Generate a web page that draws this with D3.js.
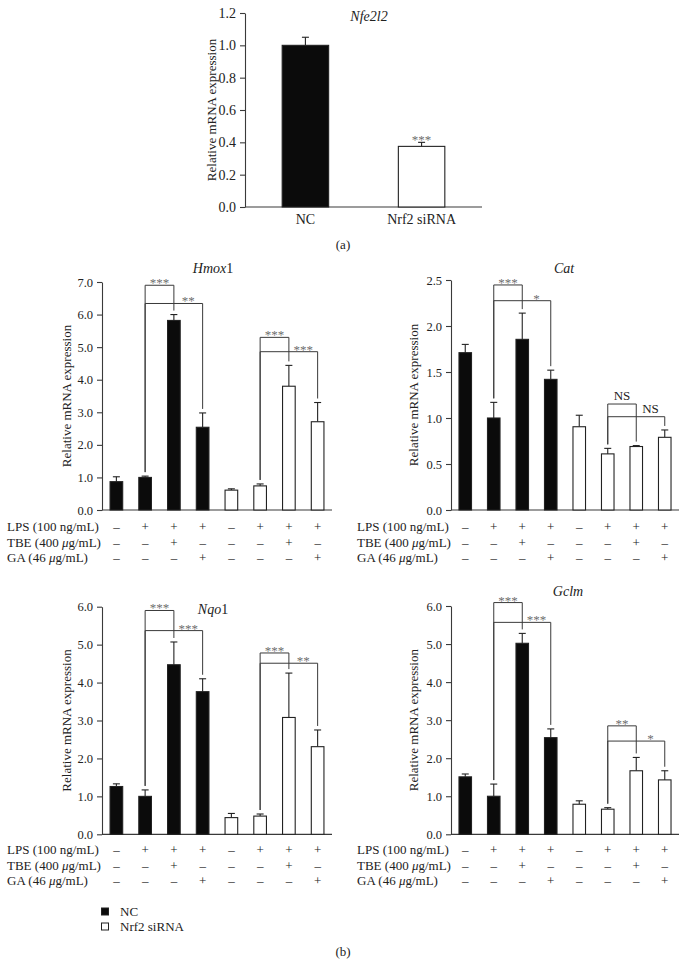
<!DOCTYPE html>
<html>
<head>
<meta charset="utf-8">
<script src="https://cdn.jsdelivr.net/npm/d3@7"></script>
<style>
  html, body { margin: 0; padding: 0; background: #fff; }
  svg { display: block; }
  text { font-family: "Liberation Serif", "Times New Roman", serif; fill: #222; }
</style>
</head>
<body>
<svg id="chart" width="688" height="979"></svg>
<script>
// ---------- DATA ----------
const nfeCategories = ["NC", "Nrf2 siRNA"];
const nfeMean = [1.00, 0.375];
const nfeErr = [0.05, 0.025];
const nfeSig = ["", "***"];

const barGroup = ["NC", "NC", "NC", "NC", "siRNA", "siRNA", "siRNA", "siRNA"];
const lpsRow = ["–", "+", "+", "+", "–", "+", "+", "+"];
const tbeRow = ["–", "–", "+", "–", "–", "–", "+", "–"];
const gaRow  = ["–", "–", "–", "+", "–", "–", "–", "+"];

const hmox1Mean = [0.87, 1.00, 5.82, 2.54, 0.61, 0.74, 3.80, 2.71];
const hmox1Err  = [0.15, 0.04, 0.18, 0.44, 0.04, 0.06, 0.64, 0.59];
const hmox1Sig  = [
  { from: 1, to: 2, level: 6.90, label: "***" },
  { from: 1, to: 3, level: 6.34, label: "**" },
  { from: 5, to: 6, level: 5.30, label: "***" },
  { from: 5, to: 7, level: 4.86, label: "***" }
];

const catMean = [1.71, 1.00, 1.855, 1.42, 0.905, 0.61, 0.69, 0.79];
const catErr  = [0.09, 0.17, 0.285, 0.10, 0.125, 0.06, 0.01, 0.08];
const catSig  = [
  { from: 1, to: 2, level: 2.446, label: "***" },
  { from: 1, to: 3, level: 2.275, label: "*" },
  { from: 5, to: 6, level: 1.152, label: "NS" },
  { from: 5, to: 7, level: 1.014, label: "NS" }
];

const nqo1Mean = [1.26, 1.00, 4.47, 3.76, 0.44, 0.48, 3.08, 2.31];
const nqo1Err  = [0.07, 0.17, 0.60, 0.34, 0.11, 0.055, 1.17, 0.44];
const nqo1Sig  = [
  { from: 1, to: 2, level: 5.90, label: "***" },
  { from: 1, to: 3, level: 5.37, label: "***" },
  { from: 5, to: 6, level: 4.78, label: "***" },
  { from: 5, to: 7, level: 4.51, label: "**" }
];

const gclmMean = [1.51, 1.00, 5.02, 2.54, 0.79, 0.66, 1.67, 1.43];
const gclmErr  = [0.075, 0.32, 0.26, 0.23, 0.09, 0.04, 0.35, 0.24];
const gclmSig  = [
  { from: 1, to: 2, level: 6.09, label: "***" },
  { from: 1, to: 3, level: 5.57, label: "***" },
  { from: 5, to: 6, level: 2.85, label: "**" },
  { from: 5, to: 7, level: 2.45, label: "*" }
];

const rowLabels = ["LPS (100 ng/mL)", "TBE (400 μg/mL)", "GA (46 μg/mL)"];
const legendItems = ["NC", "Nrf2 siRNA"];

// ---------- STYLE ----------
const INK = "#222", LINE = "#3a3a3a", STAR = "#6e6e6e", BLACK = "#0b0b0b";
const svg = d3.select("#chart");

function styleAxis(g) {
  g.selectAll("path.domain").attr("stroke", LINE).attr("stroke-width", 1.1);
  g.selectAll(".tick line").attr("stroke", LINE).attr("stroke-width", 1.1);
  g.selectAll(".tick text").attr("fill", INK)
    .style("font-family", '"Liberation Serif","Times New Roman",serif');
}

// ---------- PANEL (a) ----------
(function () {
  const x0 = 245, x1 = 482, yTop = 13, yBot = 207;
  const y = d3.scaleLinear().domain([0, 1.2]).range([yBot, yTop]);
  const x = d3.scaleBand().domain(nfeCategories).range([x0, x1]).paddingInner(0.6).paddingOuter(0.32);
  const g = svg.append("g");

  const ax = g.append("g").attr("transform", `translate(${x0},0)`)
    .call(d3.axisLeft(y).tickValues(d3.range(0, 1.21, 0.2)).tickFormat(d3.format(".1f")).tickSize(5).tickPadding(4).tickSizeOuter(0));
  styleAxis(ax);
  ax.selectAll(".tick text").style("font-size", "14px");

  g.append("line").attr("x1", x0).attr("x2", x1).attr("y1", y(0)).attr("y2", y(0))
    .attr("stroke", LINE).attr("stroke-width", 1.2);

  nfeCategories.forEach((c, i) => {
    const cx = x(c) + x.bandwidth() / 2;
    g.append("line").attr("x1", cx).attr("x2", cx).attr("y1", y(nfeMean[i])).attr("y2", y(nfeMean[i] + nfeErr[i])).attr("stroke", INK).attr("stroke-width", 1.1);
    g.append("line").attr("x1", cx - 3.5).attr("x2", cx + 3.5).attr("y1", y(nfeMean[i] + nfeErr[i])).attr("y2", y(nfeMean[i] + nfeErr[i])).attr("stroke", INK).attr("stroke-width", 1.1);
    g.append("rect").attr("x", x(c)).attr("width", x.bandwidth())
      .attr("y", y(nfeMean[i])).attr("height", y(0) - y(nfeMean[i]))
      .attr("fill", i === 0 ? BLACK : "#fff").attr("stroke", INK).attr("stroke-width", 1.1);
    if (nfeSig[i]) {
      g.append("text").attr("x", cx).attr("y", y(nfeMean[i] + nfeErr[i]) + 2)
        .attr("text-anchor", "middle").style("font-size", "13px").style("fill", STAR).text(nfeSig[i]);
    }
    g.append("text").attr("x", cx).attr("y", 224).attr("text-anchor", "middle")
      .style("font-size", "14px").text(c);
  });

  g.append("text").attr("transform", `translate(216,${(yTop + yBot) / 2}) rotate(-90)`)
    .attr("text-anchor", "middle").style("font-size", "13px").text("Relative mRNA expression");
  g.append("text").attr("x", 369).attr("y", 21).attr("text-anchor", "middle")
    .style("font-size", "14px").style("font-style", "italic").text("Nfe2l2");
  g.append("text").attr("x", 343).attr("y", 249).attr("text-anchor", "middle")
    .style("font-size", "13px").text("(a)");
})();

// ---------- PANELS (b) ----------
function drawPanel(cfg) {
  const { mean, err, sig, yMax, step, x0, x1, yBot, yTop, labelX, tableY, titleParts, titleX, titleY, yLabelX } = cfg;
  const g = svg.append("g");
  const y = d3.scaleLinear().domain([0, yMax]).range([yBot, yTop]);
  const x = d3.scaleBand().domain(d3.range(mean.length)).range([x0, x1]).paddingInner(0.56).paddingOuter(0.28);
  const cx = i => x(i) + x.bandwidth() / 2;

  const ax = g.append("g").attr("transform", `translate(${x0},0)`)
    .call(d3.axisLeft(y).tickValues(d3.range(0, yMax + 1e-6, step)).tickFormat(d3.format(".1f")).tickSize(5).tickPadding(4).tickSizeOuter(0));
  styleAxis(ax);
  ax.selectAll(".tick text").style("font-size", "12.5px");

  g.append("line").attr("x1", x0).attr("x2", x1).attr("y1", y(0)).attr("y2", y(0))
    .attr("stroke", LINE).attr("stroke-width", 1.2);

  mean.forEach((m, i) => {
    const top = y(m + err[i]);
    g.append("line").attr("x1", cx(i)).attr("x2", cx(i)).attr("y1", y(m)).attr("y2", top).attr("stroke", INK).attr("stroke-width", 1.1);
    g.append("line").attr("x1", cx(i) - 3.5).attr("x2", cx(i) + 3.5).attr("y1", top).attr("y2", top).attr("stroke", INK).attr("stroke-width", 1.1);
    g.append("rect").attr("x", x(i)).attr("width", x.bandwidth())
      .attr("y", y(m)).attr("height", y(0) - y(m))
      .attr("fill", barGroup[i] === "NC" ? BLACK : "#fff").attr("stroke", INK).attr("stroke-width", 1.1);
  });

  // significance brackets
  const gap = 4;
  sig.forEach(s => {
    const ly = y(s.level);
    const fromTop = y(mean[s.from] + err[s.from]) - gap;
    const toTop = y(mean[s.to] + err[s.to]) - gap;
    g.append("path")
      .attr("d", `M${cx(s.from)},${fromTop} V${ly} H${cx(s.to)} V${toTop}`)
      .attr("fill", "none").attr("stroke", LINE).attr("stroke-width", 1);
    const lx = (cx(s.to - 1) + cx(s.to)) / 2;
    const isNS = s.label === "NS";
    g.append("text").attr("x", lx).attr("y", isNS ? ly - 4 : ly + 2)
      .attr("text-anchor", "middle")
      .style("font-size", "13px")
      .style("fill", isNS ? INK : STAR).text(s.label);
  });

  // y label
  g.append("text").attr("transform", `translate(${yLabelX},${(yTop + yBot) / 2}) rotate(-90)`)
    .attr("text-anchor", "middle").style("font-size", "13px").text("Relative mRNA expression");

  // title
  const t = g.append("text").attr("x", titleX).attr("y", titleY).attr("text-anchor", "middle").style("font-size", "14px");
  titleParts.forEach(p => t.append("tspan").style("font-style", p.italic ? "italic" : "normal").text(p.text));

  // condition table
  const rows = [lpsRow, tbeRow, gaRow];
  rows.forEach((row, r) => {
    const ry = tableY + r * 15.5;
    const lab = g.append("text").attr("x", labelX).attr("y", ry).style("font-size", "13px");
    const parts = rowLabels[r].split("μ");
    lab.append("tspan").text(parts[0]);
    if (parts.length > 1) {
      lab.append("tspan").style("font-style", "italic").text("μ");
      lab.append("tspan").text(parts[1]);
    }
    row.forEach((sym, i) => {
      g.append("text").attr("x", cx(i)).attr("y", ry).attr("text-anchor", "middle")
        .style("font-size", "13px").text(sym);
    });
  });
}

drawPanel({ mean: hmox1Mean, err: hmox1Err, sig: hmox1Sig, yMax: 7, step: 1,
  x0: 102, x1: 332, yBot: 510, yTop: 282, labelX: 7, tableY: 531,
  titleParts: [{ text: "Hmox", italic: true }, { text: "1", italic: false }], titleX: 213, titleY: 273, yLabelX: 71 });

drawPanel({ mean: catMean, err: catErr, sig: catSig, yMax: 2.5, step: 0.5,
  x0: 451, x1: 679, yBot: 510, yTop: 280, labelX: 357, tableY: 531,
  titleParts: [{ text: "Cat", italic: true }], titleX: 564, titleY: 273, yLabelX: 418 });

drawPanel({ mean: nqo1Mean, err: nqo1Err, sig: nqo1Sig, yMax: 6, step: 1,
  x0: 102, x1: 332, yBot: 834.3, yTop: 606.7, labelX: 7, tableY: 854,
  titleParts: [{ text: "Nqo", italic: true }, { text: "1", italic: false }], titleX: 213, titleY: 614, yLabelX: 71 });

drawPanel({ mean: gclmMean, err: gclmErr, sig: gclmSig, yMax: 6, step: 1,
  x0: 451, x1: 679, yBot: 834.3, yTop: 606, labelX: 357, tableY: 854,
  titleParts: [{ text: "Gclm", italic: true }], titleX: 568, titleY: 596, yLabelX: 418 });

// ---------- LEGEND ----------
const lg = svg.append("g");
legendItems.forEach((name, i) => {
  const ly = 908 + i * 15;
  lg.append("rect").attr("x", 101.5).attr("y", ly).attr("width", 7).attr("height", 7)
    .attr("fill", i === 0 ? BLACK : "#fff").attr("stroke", INK).attr("stroke-width", 1);
  lg.append("text").attr("x", 120).attr("y", ly + 8).style("font-size", "13px").text(name);
});
svg.append("text").attr("x", 343).attr("y", 956).attr("text-anchor", "middle")
  .style("font-size", "13px").text("(b)");
</script>
</body>
</html>
